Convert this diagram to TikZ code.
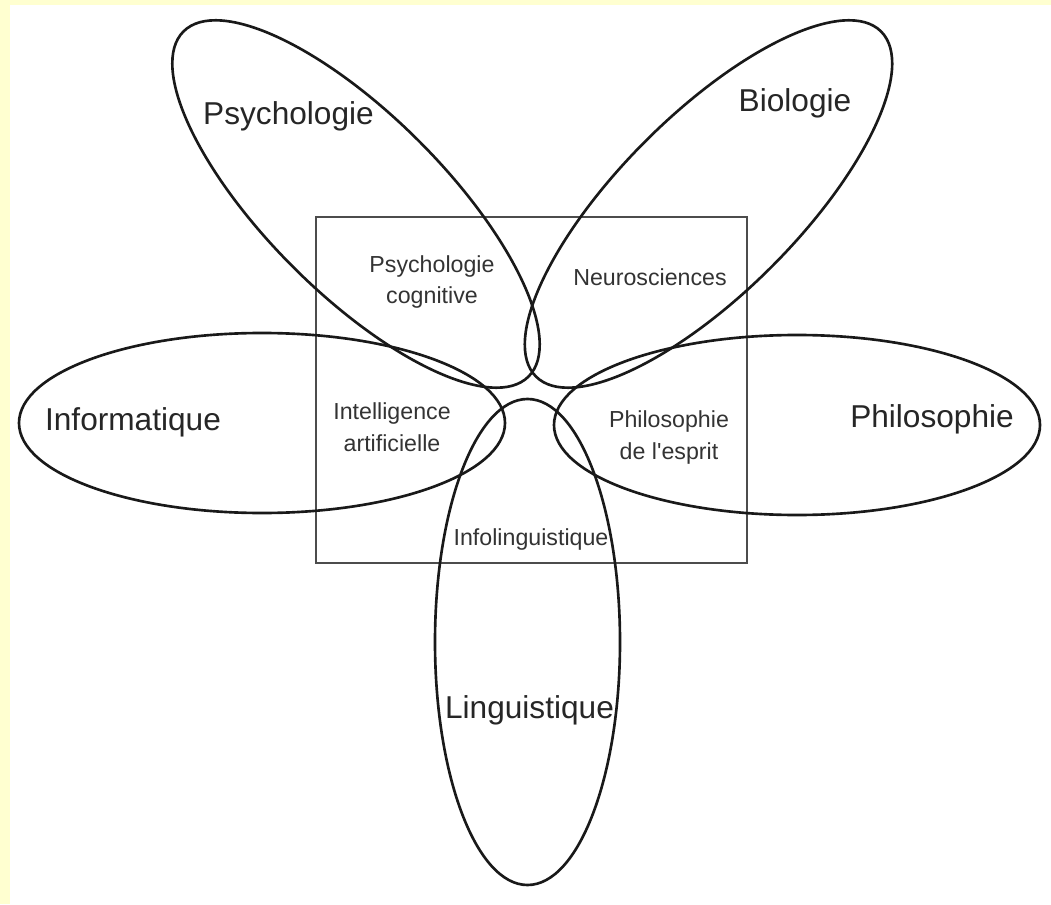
\documentclass[tikz,border=0pt]{standalone}
\usepackage{fontspec}
\setmainfont{Liberation Sans}[Ligatures=TeXOff]
\definecolor{pageyellow}{RGB}{255,255,208}
\definecolor{ink}{RGB}{25,25,25}

\begin{document}
\begin{tikzpicture}[x=0.02cm, y=0.02cm,
    petal/.style={draw=ink, line width=1.5pt},
    frame/.style={draw=black!70, line width=0.8pt},
    field/.style={font=\fontsize{18}{22}\selectfont, text=black!85, inner sep=0pt, anchor=base},
    overlap/.style={font=\fontsize{13.2}{18.2}\selectfont, text=black!80, align=center, inner sep=0pt}
  ]
    \fill[pageyellow] (0,0) rectangle (1051,904);
    \fill[white] (10,0) rectangle (1051,899);
    \useasboundingbox (0,0) rectangle (1051,904);

    % central frame
    \draw[frame] (316,341) rectangle (747,687);

    % petals
    \draw[petal] (262,481) ellipse [x radius=243, y radius=90];
    \draw[petal] (797,479) ellipse [x radius=243, y radius=90];
    \draw[petal] (527.5,262) ellipse [x radius=92.5, y radius=243];
    \draw[petal, rotate around={-45:(356,700)}] (356,700) ellipse [x radius=244, y radius=89];
    \draw[petal, rotate around={45:(708.5,700)}] (708.5,700) ellipse [x radius=244, y radius=89];

    % disciplines
    \node[field] (psy)   at (288.5,779) {Psychologie};
    \node[field] (bio)   at (795,792)   {Biologie};
    \node[field] (info)  at (133,474)   {Informatique};
    \node[field] (philo) at (932,477)   {Philosophie};
    \node[field] (ling)  at (529.5,186) {Linguistique};

    % overlaps
    \node[overlap] (psycog)  at (432,622)   {Psychologie\\cognitive};
    \node[overlap, anchor=base] (neuro) at (650,619) {Neurosciences};
    \node[overlap] (ia)      at (392,477)   {Intelligence\\artificielle};
    \node[overlap] (philesp) at (669,466.5) {Philosophie\\de l'esprit};
    \node[overlap, anchor=base] (infoling) at (531,359) {Infolinguistique};
\end{tikzpicture}
\end{document}
